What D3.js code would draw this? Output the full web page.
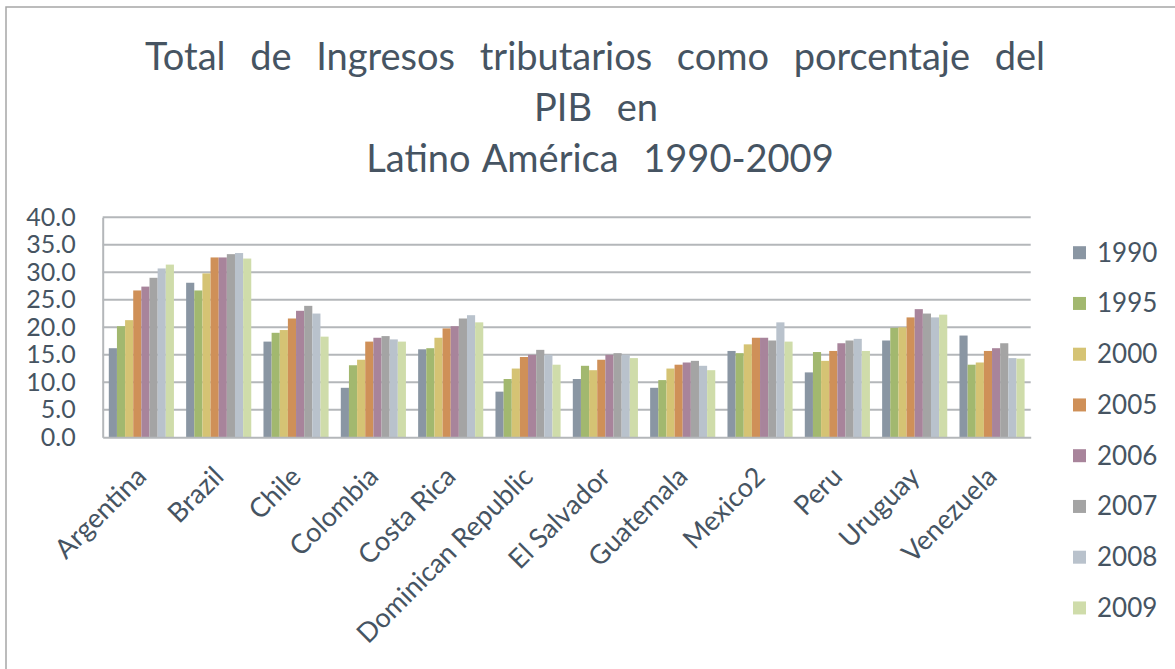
<!DOCTYPE html>
<html>
<head>
<meta charset="utf-8">
<script src="https://cdn.jsdelivr.net/npm/d3@7"></script>
<style>
  body { margin: 0; background: #fff; }
  svg { display: block; font-family: Lato, "Open Sans", sans-serif; }
</style>
</head>
<body>
<div id="chart"></div>
<script>
// data
const countries = ["Argentina", "Brazil", "Chile", "Colombia", "Costa Rica", "Dominican Republic",
  "El Salvador", "Guatemala", "Mexico2", "Peru", "Uruguay", "Venezuela"];
const years = ["1990", "1995", "2000", "2005", "2006", "2007", "2008", "2009"];

const v1990 = [16.2, 28.1, 17.4, 9.0, 16.0, 8.3, 10.6, 9.0, 15.7, 11.8, 17.6, 18.5];
const v1995 = [20.2, 26.7, 19.0, 13.1, 16.2, 10.6, 13.0, 10.4, 15.3, 15.5, 19.9, 13.2];
const v2000 = [21.3, 29.8, 19.5, 14.1, 18.1, 12.5, 12.2, 12.5, 16.9, 13.9, 20.0, 13.6];
const v2005 = [26.7, 32.7, 21.6, 17.4, 19.8, 14.6, 14.1, 13.2, 18.1, 15.7, 21.8, 15.7];
const v2006 = [27.4, 32.7, 23.0, 18.1, 20.2, 15.0, 15.0, 13.6, 18.1, 17.1, 23.3, 16.2];
const v2007 = [29.0, 33.3, 23.9, 18.4, 21.6, 15.9, 15.3, 13.9, 17.6, 17.6, 22.5, 17.1];
const v2008 = [30.7, 33.5, 22.5, 17.8, 22.2, 15.0, 15.0, 13.0, 20.9, 17.9, 21.8, 14.4];
const v2009 = [31.4, 32.5, 18.3, 17.4, 20.9, 13.2, 14.4, 12.2, 17.4, 15.7, 22.3, 14.3];

const yTicks = [0, 5, 10, 15, 20, 25, 30, 35, 40];
const titleLines = ["Total  de  Ingresos  tributarios  como  porcentaje  del", "PIB  en", "Latino América  1990-2009"];

const series = [v1990, v1995, v2000, v2005, v2006, v2007, v2008, v2009];
const colors = ["#8a96a3", "#a2b86f", "#d5c374", "#cf9058", "#a8849b", "#a4a4a4", "#b9c2cc", "#cfdcaa"];

// table: one row per country
const data = countries.map((c, i) => ({
  country: c,
  values: years.map((y, j) => ({ year: y, value: series[j][i] }))
}));

const W = 1175, H = 669;
const plot = { left: 102.7, right: 1030.7, top: 217.3, bottom: 437.3 };
const textColor = "#465462";

const svg = d3.select("#chart")
  .append("svg")
    .attr("width", W)
    .attr("height", H);

// chart border
svg.append("rect")
  .attr("x", 6).attr("y", 7)
  .attr("width", 1300).attr("height", 800)
  .attr("fill", "none")
  .attr("stroke", "#a6a6a6")
  .attr("stroke-width", 1.5);

// title (double spaces kept, gaps widened so line 1 spans like the original)
const title = svg.append("g")
  .attr("fill", textColor)
  .attr("text-anchor", "middle")
  .style("font-size", "38px")
  .style("white-space", "pre");
const t0 = title.append("text")
  .attr("xml:space", "preserve")
  .attr("x", 595).attr("y", 70)
  .text(titleLines[0]);
const w0 = t0.node().getComputedTextLength();
const nSpaces = titleLines[0].split(" ").length - 1;
const ws = Math.max(0, (900 - w0) / nSpaces);
t0.attr("word-spacing", ws);
titleLines.slice(1).forEach((t, i) => {
  title.append("text")
    .attr("xml:space", "preserve")
    .attr("x", 596 + i * 4)
    .attr("y", 121 + i * 51)
    .attr("word-spacing", ws)
    .text(t);
});

// scales
const x0 = d3.scaleBand()
  .domain(countries)
  .range([plot.left, plot.right])
  .paddingInner(1.5 / 9.5)
  .paddingOuter(0.75 / 9.5);

const x1 = d3.scaleBand()
  .domain(years)
  .range([0, x0.bandwidth()]);

const y = d3.scaleLinear()
  .domain([0, 40])
  .range([plot.bottom, plot.top]);

const color = d3.scaleOrdinal().domain(years).range(colors);

// gridlines
svg.append("g")
  .selectAll("line")
  .data(yTicks.slice(1))
  .join("line")
    .attr("x1", plot.left).attr("x2", plot.right)
    .attr("y1", d => y(d)).attr("y2", d => y(d))
    .attr("stroke", "#b4b7ba")
    .attr("stroke-width", 2);

// Y axis
const yAxis = svg.append("g")
  .attr("transform", `translate(${plot.left},0)`)
  .call(d3.axisLeft(y).tickValues(yTicks).tickSize(0).tickPadding(27).tickFormat(d3.format(".1f")));
yAxis.select(".domain").attr("stroke", "#b4b7ba").attr("stroke-width", 2);
yAxis.selectAll("text")
  .attr("fill", textColor)
  .style("font-size", "25px")
  .style("font-family", "Lato, sans-serif");

// bars
svg.append("g")
  .selectAll("g")
  .data(data)
  .join("g")
    .attr("transform", d => `translate(${x0(d.country)},0)`)
  .selectAll("rect")
  .data(d => d.values)
  .join("rect")
    .attr("x", d => x1(d.year))
    .attr("y", d => y(d.value))
    .attr("width", x1.bandwidth())
    .attr("height", d => y(0) - y(d.value))
    .attr("fill", d => color(d.year));

// X axis
const xAxis = svg.append("g")
  .attr("transform", `translate(0,${plot.bottom})`)
  .call(d3.axisBottom(x0).tickSize(0).tickSizeOuter(0));
xAxis.select(".domain").attr("stroke", "#b4b7ba").attr("stroke-width", 2);
xAxis.selectAll("text")
  .attr("fill", textColor)
  .style("font-size", "27px")
  .style("font-family", "Lato, sans-serif")
  .attr("text-anchor", "end")
  .attr("dy", null)
  .attr("y", 0)
  .attr("transform", d => `translate(${x0.bandwidth() / 2 - 26}, 41) rotate(-45)`);

// Handmade legend
const legend = svg.append("g")
  .selectAll("g")
  .data(years)
  .join("g")
    .attr("transform", (d, i) => `translate(1073, ${252.7 + i * 50.75})`);
legend.append("rect")
  .attr("x", 0).attr("y", -6.5)
  .attr("width", 13).attr("height", 13)
  .attr("fill", d => color(d));
legend.append("text")
  .attr("x", 24).attr("y", 9)
  .attr("fill", textColor)
  .style("font-size", "26px")
  .text(d => d);
</script>
</body>
</html>
